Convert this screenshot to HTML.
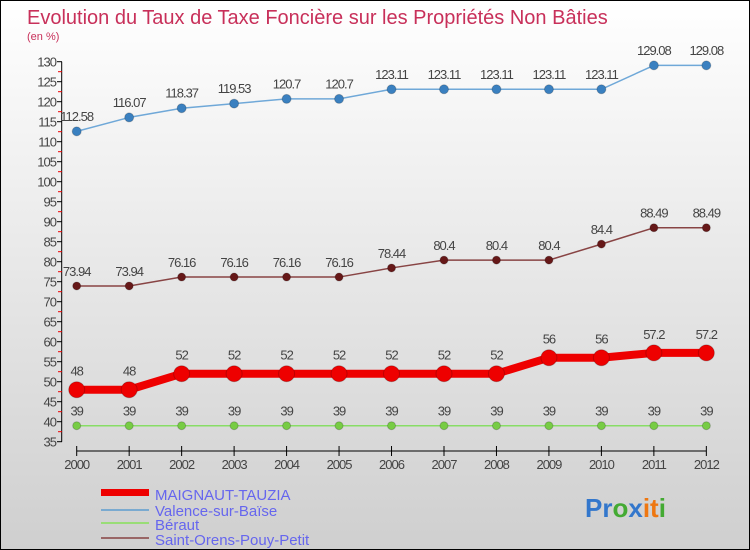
<!DOCTYPE html>
<html><head><meta charset="utf-8"><style>
body{margin:0;}
#c{width:750px;height:550px;position:relative;box-sizing:border-box;border:1px solid #000;background:linear-gradient(#ffffff,#cfcfcf);overflow:hidden;font-family:"Liberation Sans",sans-serif;}
svg text{font-family:"Liberation Sans",sans-serif;}
</style></head><body>
<div id="c">
<svg id="s" width="750" height="550">
<text x="26" y="23" font-size="20" fill="#c8305a">Evolution du Taux de Taxe Foncière sur les Propriétés Non Bâties</text>
<text x="26" y="39" font-size="11" fill="#c8305a">(en %)</text>
<g id="axes"></g><g id="series"></g>
<g>
<rect x="100" y="488" width="48" height="7" fill="#ee0000"/>
<text x="154" y="499" font-size="15" fill="#6666ee">MAIGNAUT-TAUZIA</text>
<rect x="100" y="508" width="48" height="2" fill="#7aaad0"/>
<text x="154" y="515" font-size="15" fill="#6666ee">Valence-sur-Baïse</text>
<rect x="100" y="521" width="48" height="2" fill="#99dd77"/>
<text x="154" y="529" font-size="15" fill="#6666ee">Béraut</text>
<rect x="100" y="536" width="48" height="2" fill="#996666"/>
<text x="154" y="544" font-size="15" fill="#6666ee">Saint-Orens-Pouy-Petit</text>
</g>
<text x="584" y="516" font-size="26" font-weight="bold"><tspan fill="#3377cc">Pr</tspan><tspan fill="#44aa33">o</tspan><tspan fill="#3377cc">x</tspan><tspan fill="#ee7711">it</tspan><tspan fill="#44aa33">i</tspan></text>
</svg></div>
<script>
const years=["2000","2001","2002","2003","2004","2005","2006","2007","2008","2009","2010","2011","2012"];
const maignaut=[48,48,52,52,52,52,52,52,52,56,56,57.2,57.2];
const valence=[112.58,116.07,118.37,119.53,120.7,120.7,123.11,123.11,123.11,123.11,123.11,129.08,129.08];
const beraut=[39,39,39,39,39,39,39,39,39,39,39,39,39];
const saintOrens=[73.94,73.94,76.16,76.16,76.16,76.16,78.44,80.4,80.4,80.4,84.4,88.49,88.49];
const yTicks=[35,40,45,50,55,60,65,70,75,80,85,90,95,100,105,110,115,120,125,130];
const NS="http://www.w3.org/2000/svg";
const X=i=>75.7+i*52.47;
const Y=v=>60.7+(130-v)*4;
function mk(t,a,p){const e=document.createElementNS(NS,t);for(const k in a)e.setAttribute(k,a[k]);p.appendChild(e);return e;}
const ax=document.getElementById('axes');
let e=mk('line',{x1:60.7,y1:Y(130),x2:60.7,y2:Y(35),stroke:'#000'},ax);


yTicks.forEach(v=>{
 mk('line',{x1:56,x2:61,y1:Y(v),y2:Y(v),stroke:'#000'},ax);
 if(v<130)mk('line',{x1:57,x2:61,y1:Y(v+2.5),y2:Y(v+2.5),stroke:'#e00'},ax);
 const t=mk('text',{x:55,y:Y(v)+5,'font-size':13,fill:'#444','text-anchor':'end','letter-spacing':'-1'},ax);
 t.textContent=v;
 
 
});
e=mk('line',{x1:X(0),x2:X(12),y1:450,y2:450,stroke:'#000'},ax);


years.forEach((y,i)=>{
 mk('line',{x1:X(i),x2:X(i),y1:445,y2:455,stroke:'#000'},ax);
 const t=mk('text',{x:X(i),y:468,'font-size':13,fill:'#444','text-anchor':'middle','letter-spacing':'-1'},ax);
 t.textContent=y;
 
 
});
const sg=document.getElementById('series');
function draw(vals,name,col,dot,w,r){
 const g=mk('g',{},sg);
 
 
 mk('polyline',{points:vals.map((v,i)=>X(i)+','+Y(v)).join(' '),fill:'none',stroke:col,'stroke-width':w},g);
 vals.forEach((v,i)=>{
  const c=mk('circle',{cx:X(i),cy:Y(v),r:r,fill:dot,stroke:'rgba(0,0,0,0.2)'},g);
  
  
  const t=mk('text',{x:X(i),y:Y(v)-(r+6),'font-size':13,fill:'#444','text-anchor':'middle','letter-spacing':'-1'},g);
  t.textContent=String(v);
  
  
 });
}
draw(valence,'valence','#6fa8d8','#3a80c0',1.5,4.5);
draw(saintOrens,'saint-orens','#884444','#661818',1.5,4);
draw(beraut,'beraut','#88dd66','#77cc44',1.5,4);
draw(maignaut,'maignaut','#ee0000','#ee0000',8,8);
</script>
</body></html>
